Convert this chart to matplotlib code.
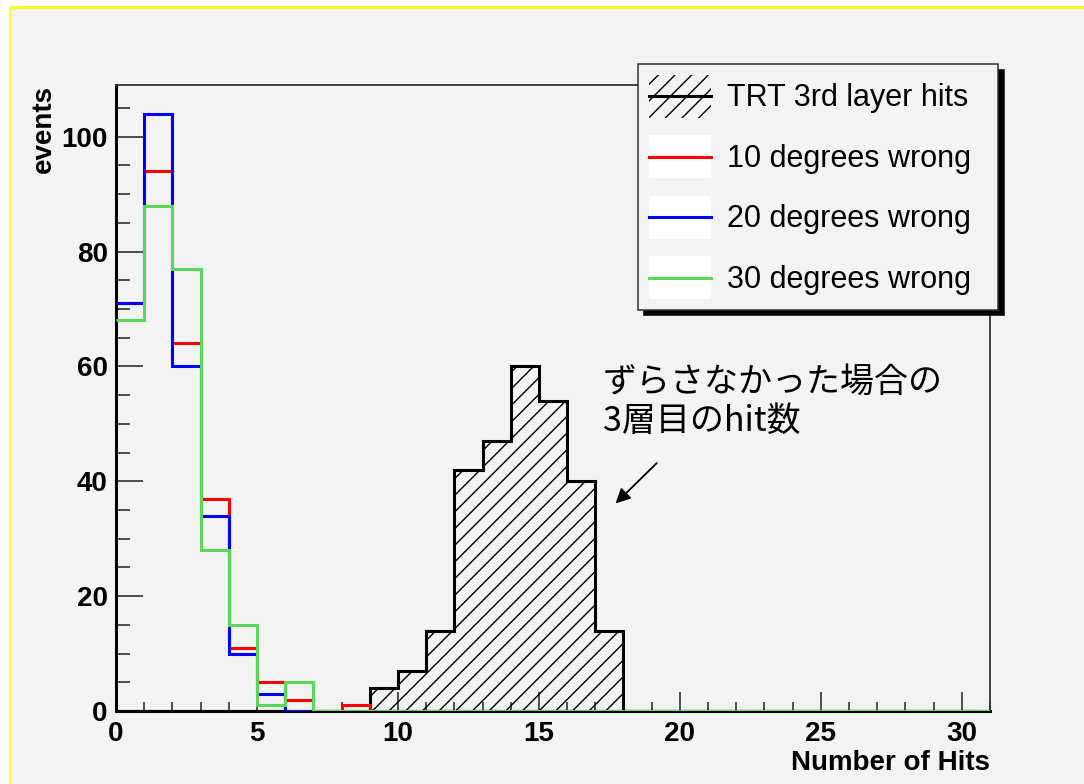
import numpy as np
import matplotlib
matplotlib.use("Agg")
import matplotlib.pyplot as plt
from matplotlib.patches import Rectangle
from matplotlib.lines import Line2D
from matplotlib.ticker import MultipleLocator

plt.rcParams['font.family'] = ['Liberation Sans', 'Noto Sans CJK JP', 'DejaVu Sans']

# --- Data (bin contents, 1 hit per bin, 0..31) ---
n_bins = 31
trt_hits = [0, 0, 0, 0, 0, 0, 0, 0, 0, 4, 7, 14, 42, 47, 60, 54, 40, 14] + [0] * 13
wrong10 = [71, 94, 64, 37, 11, 5, 2, 0, 1] + [0] * 22
wrong20 = [71, 104, 60, 34, 10, 3, 0, 0, 0] + [0] * 22
wrong30 = [68, 88, 77, 28, 15, 1, 5, 0, 0] + [0] * 22
labels = ["TRT 3rd layer hits", "10 degrees wrong", "20 degrees wrong", "30 degrees wrong"]
colors = ["#ff0000", "#0000ff", "#5ad65a"]
note_lines = ["ずらさなかった場合の", "3層目のhit数"]

edges = np.arange(n_bins + 1)
bg = "#f3f3f3"


# ROOT style legend entry: box (white or hatched) with a line through the middle
class Entry:
    def __init__(self, color, face="white", hatch=None):
        self.color, self.face, self.hatch = color, face, hatch


class EntryHandler:
    def legend_artist(self, legend, orig, fontsize, handlebox):
        x0, y0 = -handlebox.xdescent, -handlebox.ydescent
        w, h = handlebox.width, handlebox.height
        box = Rectangle((x0, y0), w, h, facecolor=orig.face, hatch=orig.hatch,
                        edgecolor="black" if orig.hatch else "none", lw=0,
                        transform=handlebox.get_transform())
        line = Line2D([x0, x0 + w], [y0 + h / 2] * 2, color=orig.color, lw=2.2,
                      transform=handlebox.get_transform())
        handlebox.add_artist(box)
        handlebox.add_artist(line)
        return box


# --- Figure ---
fig = plt.figure(figsize=(10.84, 7.84), dpi=100, facecolor="white")
W, H = 1084, 784
frame = Rectangle((9.5 / W, -0.1), 1.2, (H - 7.5) / H + 0.1, transform=fig.transFigure,
                  facecolor=bg, edgecolor="#ffff30", lw=2.2, zorder=-10)
fig.add_artist(frame)

ax = fig.add_axes([116 / W, 1 - 711 / H, (990 - 116) / W, (711 - 85) / H])
ax.set_facecolor("none")

ax.stairs(trt_hits, edges, fill=True, baseline=0, facecolor="none", edgecolor="black",
          hatch="//", lw=2.2, zorder=2)
for vals, c in zip([wrong10, wrong20, wrong30], colors):
    ax.stairs(vals, edges, baseline=None, color=c, lw=2.2, zorder=3)

ax.set_xlim(0, 31)
ax.set_ylim(0, 109)

# ROOT-like axes
for s in ["left", "bottom"]:
    ax.spines[s].set_linewidth(2.2)
    ax.spines[s].set_color("black")
for s in ["top", "right"]:
    ax.spines[s].set_linewidth(1.3)
    ax.spines[s].set_color("#333333")

ax.xaxis.set_major_locator(MultipleLocator(5))
ax.xaxis.set_minor_locator(MultipleLocator(1))
ax.yaxis.set_major_locator(MultipleLocator(20))
ax.yaxis.set_minor_locator(MultipleLocator(5))
ax.tick_params(axis="both", which="both", direction="in", width=1.1, color="#222222")
ax.tick_params(axis="x", which="major", length=13.7, pad=7)
ax.tick_params(axis="x", which="minor", length=6.5)
ax.tick_params(axis="y", which="major", length=19.4, pad=6)
ax.tick_params(axis="y", which="minor", length=10)
for lab in ax.get_xticklabels() + ax.get_yticklabels():
    lab.set_fontsize(20)
    lab.set_fontweight("bold")

ax.set_xlabel("Number of Hits", loc="right", fontsize=20, fontweight="bold", labelpad=2)
ax.set_ylabel("events", loc="top", fontsize=20, fontweight="bold", labelpad=3)

# --- Legend ---
handles = [Entry("black", face="none", hatch="//")] + [Entry(c) for c in colors]
leg = ax.legend(handles, labels, handler_map={Entry: EntryHandler()},
                loc="upper left", bbox_to_anchor=(638 / W, 1 - 64 / H, 360 / W, 0),
                mode="expand", bbox_transform=fig.transFigure, borderaxespad=0,
                fontsize=22, handlelength=2.05, handleheight=1.78, labelspacing=0.58,
                handletextpad=0.5, borderpad=0.35, fancybox=False, framealpha=1,
                shadow={"color": "black", "alpha": 1, "ox": 4, "oy": -4})
leg.get_frame().set_facecolor(bg)
leg.get_frame().set_edgecolor("#333333")
leg.get_frame().set_linewidth(1.1)
leg.set_zorder(5)

# --- Annotation ---
ax.text(17.27, 55.6, note_lines[0], fontsize=24.5, family=["Noto Sans CJK JP"], va="baseline")
ax.text(17.27, 48.7, note_lines[1], fontsize=24.5, family=["Noto Sans CJK JP"], va="baseline")
ax.annotate("", xy=(17.65, 35.8), xytext=(19.25, 43.5),
            arrowprops=dict(arrowstyle="-|>", color="black", lw=1.3, mutation_scale=22))

fig.savefig("out.png", dpi=100, facecolor=fig.get_facecolor())
